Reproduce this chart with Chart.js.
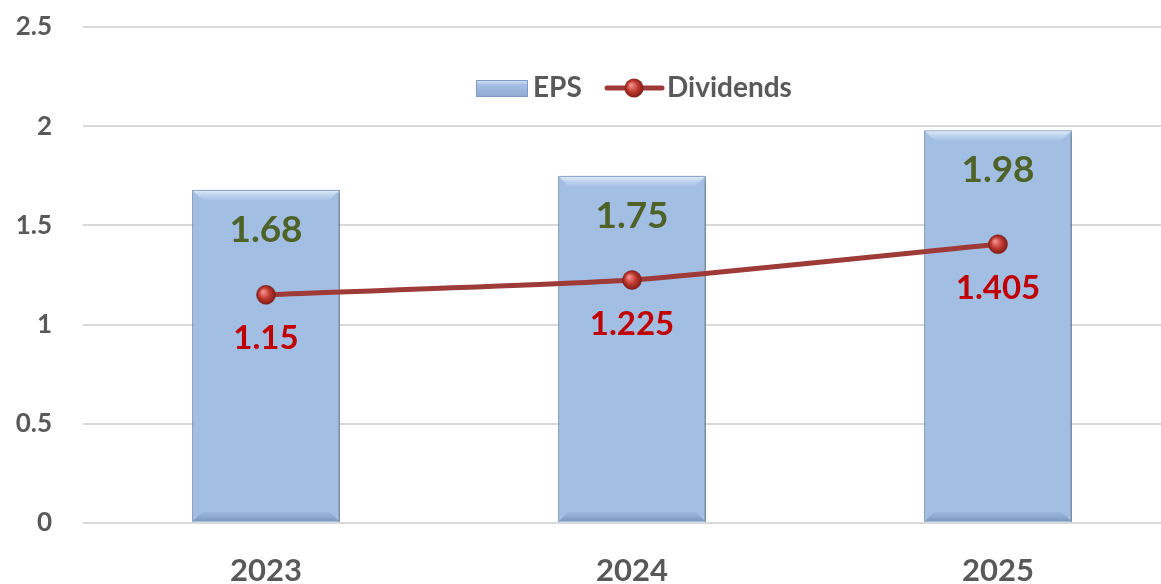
<!DOCTYPE html>
<html>
<head>
<meta charset="utf-8">
<script src="https://cdn.jsdelivr.net/npm/chart.js@4.4.1/dist/chart.umd.min.js"></script>
<style>
  html, body { margin: 0; padding: 0; background: #ffffff; overflow: hidden; width: 1161px; height: 584px; }
  #wrap { position: relative; width: 1191px; height: 584px; }
</style>
</head>
<body>
<div id="wrap"><canvas id="c" width="1191" height="584"></canvas></div>
<script>
const categories = ['2023', '2024', '2025'];
const epsValues = [1.68, 1.75, 1.98];
const dividendValues = [1.15, 1.225, 1.405];
const yTickValues = [0, 0.5, 1, 1.5, 2, 2.5];
const seriesNames = ['EPS', 'Dividends'];

const FONT = 'Lato, "Open Sans", "DejaVu Sans", sans-serif';
const GREY = '#595959';
const LINE_COLOR = '#9E3A38';

const labelPlugin = {
  id: 'valueLabels',
  afterDatasetsDraw(chart) {
    const ctx = chart.ctx;
    ctx.save();
    ctx.textAlign = 'center';
    ctx.textBaseline = 'middle';
    chart.data.datasets.forEach((ds, di) => {
      const meta = chart.getDatasetMeta(di);
      meta.data.forEach((el, i) => {
        const v = ds.data[i];
        if (ds.type === 'bar') {
          ctx.font = 'bold 37px ' + FONT;
          ctx.fillStyle = '#4F6228';
          ctx.fillText(String(v), el.x, el.y + 40);
        } else {
          ctx.font = 'bold 33px ' + FONT;
          ctx.fillStyle = '#C00000';
          ctx.fillText(String(v), el.x, el.y + 44);
        }
      });
    });
    ctx.restore();
  }
};

const shadowPlugin = {
  id: 'barShadow',
  beforeDatasetDraw(chart, args) {
    if (chart.data.datasets[args.index].type === 'bar') {
      const ctx = chart.ctx;
      ctx.save();
      ctx.shadowColor = 'rgba(0,0,0,0.35)';
      ctx.shadowBlur = 5;
      ctx.shadowOffsetX = 2;
      ctx.shadowOffsetY = 2;
    }
  },
  afterDatasetDraw(chart, args) {
    if (chart.data.datasets[args.index].type === 'bar') {
      const ctx = chart.ctx;
      ctx.restore();
      // bevel highlight on the top edge and darker bottom edge of each bar
      const meta = chart.getDatasetMeta(args.index);
      meta.data.forEach((el) => {
        const l = el.x - el.width / 2 + 1, r = el.x + el.width / 2 - 1;
        const t = el.y + 1, b = el.base - 1;
        const bev = 9;
        ctx.save();
        const gt = ctx.createLinearGradient(0, t, 0, t + bev);
        gt.addColorStop(0, 'rgba(225,236,250,0.95)');
        gt.addColorStop(1, 'rgba(190,212,240,0.3)');
        ctx.fillStyle = gt;
        ctx.beginPath();
        ctx.moveTo(l, t);
        ctx.lineTo(r, t);
        ctx.lineTo(r - bev, t + bev);
        ctx.lineTo(l + bev, t + bev);
        ctx.closePath();
        ctx.fill();
        const gb = ctx.createLinearGradient(0, b - bev, 0, b);
        gb.addColorStop(0, 'rgba(120,145,185,0.15)');
        gb.addColorStop(1, 'rgba(100,125,165,0.6)');
        ctx.fillStyle = gb;
        ctx.beginPath();
        ctx.moveTo(l + bev, b - bev);
        ctx.lineTo(r - bev, b - bev);
        ctx.lineTo(r, b);
        ctx.lineTo(l, b);
        ctx.closePath();
        ctx.fill();
        ctx.restore();
      });
    }
  }
};

const legendPlugin = {
  id: 'customLegend',
  afterDraw(chart) {
    const ctx = chart.ctx;
    ctx.save();
    const cy = 88;
    const g = ctx.createLinearGradient(0, 80, 0, 97);
    g.addColorStop(0, '#D6E4F5');
    g.addColorStop(0.3, '#A3BEE3');
    g.addColorStop(1, '#8EAAD2');
    ctx.fillStyle = g;
    ctx.fillRect(476, 80, 52, 17);
    ctx.strokeStyle = '#7F9CC4';
    ctx.lineWidth = 1;
    ctx.strokeRect(476.5, 80.5, 51, 16);
    ctx.font = 'bold 28px ' + FONT;
    ctx.fillStyle = GREY;
    ctx.textBaseline = 'middle';
    ctx.textAlign = 'left';
    ctx.fillText(seriesNames[0], 533, cy);
    ctx.strokeStyle = LINE_COLOR;
    ctx.lineWidth = 5;
    ctx.lineCap = 'round';
    ctx.beginPath();
    ctx.moveTo(607, cy);
    ctx.lineTo(662, cy);
    ctx.stroke();
    const rg = ctx.createRadialGradient(631, cy - 3, 1, 634, cy, 10);
    rg.addColorStop(0, '#F08A85');
    rg.addColorStop(0.5, '#C0392F');
    rg.addColorStop(1, '#7A1A17');
    ctx.fillStyle = rg;
    ctx.beginPath();
    ctx.arc(634, cy, 9.5, 0, Math.PI * 2);
    ctx.fill();
    ctx.fillStyle = GREY;
    ctx.fillText(seriesNames[1], 667, cy);
    ctx.restore();
  }
};

function pointGradient(context) {
  const el = context.element;
  const ctx = context.chart.ctx;
  if (!el || el.x === undefined || isNaN(el.x)) return '#C0504D';
  const rg = ctx.createRadialGradient(el.x - 3, el.y - 3, 1, el.x, el.y, 10);
  rg.addColorStop(0, '#F08A85');
  rg.addColorStop(0.5, '#C0392F');
  rg.addColorStop(1, '#7A1A17');
  return rg;
}

function barGradient(context) {
  const el = context.element;
  const ctx = context.chart.ctx;
  if (!el || el.x === undefined || isNaN(el.x) || !el.width) return '#A3BEE3';
  const l = el.x - el.width / 2, r = el.x + el.width / 2;
  const g = ctx.createLinearGradient(l, 0, r, 0);
  g.addColorStop(0, '#8BA7CE');
  g.addColorStop(0.06, '#A3BEE3');
  g.addColorStop(0.94, '#A3BEE3');
  g.addColorStop(1, '#86A2C9');
  return g;
}

function build() {
  new Chart(document.getElementById('c'), {
    data: {
      labels: categories,
      datasets: [
        {
          type: 'line',
          label: seriesNames[1],
          data: dividendValues,
          borderColor: LINE_COLOR,
          borderWidth: 5,
          pointRadius: 9.5,
          pointHoverRadius: 9.5,
          pointBackgroundColor: pointGradient,
          pointBorderColor: '#7A1A17',
          pointBorderWidth: 0.5,
          tension: 0.15,
          order: 0
        },
        {
          type: 'bar',
          label: seriesNames[0],
          data: epsValues,
          backgroundColor: barGradient,
          borderColor: '#7F9CC4',
          borderWidth: 1.5,
          barPercentage: 0.404,
          categoryPercentage: 1,
          order: 1
        }
      ]
    },
    options: {
      responsive: false,
      animation: false,
      devicePixelRatio: 1,
      layout: { padding: { top: 27, right: 0, bottom: 0, left: 0 } },
      plugins: {
        legend: { display: false },
        tooltip: { enabled: false }
      },
      scales: {
        x: {
          grid: { display: false, drawTicks: false },
          border: { display: false },
          ticks: {
            color: GREY,
            font: { family: FONT, size: 31, weight: 'bold' },
            padding: 29
          },
          afterFit(scale) { scale.height = 61; }
        },
        y: {
          min: 0,
          max: 2.5,
          afterBuildTicks(scale) { scale.ticks = yTickValues.map(v => ({ value: v })); },
          grid: { color: '#D9D9D9', lineWidth: 2, drawTicks: false },
          border: { display: false },
          ticks: {
            color: GREY,
            font: { family: FONT, size: 26, weight: 'bold' },
            padding: 31,
            callback: (v) => String(v)
          },
          afterFit(scale) {
            scale.width = 83;
            scale.paddingTop = 0;
            scale.paddingBottom = 0;
          }
        }
      }
    },
    plugins: [shadowPlugin, labelPlugin, legendPlugin]
  });
}

if (document.fonts && document.fonts.load) {
  Promise.all([
    document.fonts.load('bold 26px Lato'),
    document.fonts.load('bold 35px Lato')
  ]).then(build, build);
} else {
  build();
}
</script>
</body>
</html>
